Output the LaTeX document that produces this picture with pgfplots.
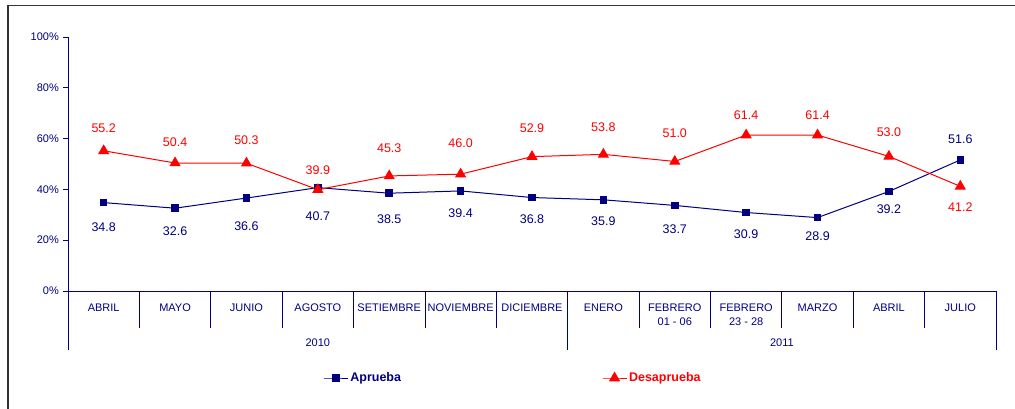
\documentclass[border=0pt]{standalone}
\usepackage{pgfplots}
\usepackage{pgfplotstable}
\pgfplotsset{compat=1.18}
\usepackage{fontspec}
\setmainfont{Liberation Sans}
\definecolor{navy}{RGB}{0,0,128}
\definecolor{dred}{RGB}{255,0,0}

\pgfplotstableread{
x a al d dl
0 34.8 25.2 55.2 64.2
1 32.6 23.6 50.4 58.7
2 36.6 25.6 50.3 59.4
3 40.7 29.5 39.9 47.6
4 38.5 28.3 45.3 56.3
5 39.4 30.7 46.0 58.3
6 36.8 28.3 52.9 64.2
7 35.9 27.6 53.8 64.6
8 33.7 24.4 51.0 62.2
9 30.9 22.4 61.4 69.3
10 28.9 21.7 61.4 69.3
11 39.2 32.3 53.0 62.6
12 51.6 59.8 41.2 33.1
}\datatable

\begin{document}
\begin{tikzpicture}
\path[use as bounding box] (0,0) rectangle (1015bp,-409bp);
\draw[black!80, line width=1.5bp] (8bp,-409bp) -- (8bp,-5.5bp) -- (1015bp,-5.5bp);
\begin{axis}[
  at={(68bp,-291bp)}, anchor=south west,
  scale only axis, width=928bp, height=254bp,
  xmin=-0.5, xmax=12.5, ymin=0, ymax=100,
  axis lines*=left,
  axis line style={navy, line width=0.8bp},
  xtick={0,...,12},
  xticklabels={ABRIL,MAYO,JUNIO,AGOSTO,SETIEMBRE,NOVIEMBRE,DICIEMBRE,ENERO,{FEBRERO\\01 - 06},{FEBRERO\\23 - 28},MARZO,ABRIL,JULIO},
  x tick style={draw=none},
  xticklabel style={align=center, anchor=north, inner sep=0pt, yshift=-8bp, font=\fontsize{11bp}{14bp}\selectfont, text=navy},
  ytick={0,20,...,100},
  yticklabels={0\%,20\%,40\%,60\%,80\%,100\%},
  y tick style={navy, line width=0.8bp},
  tick align=outside, major tick length=5bp,
  yticklabel style={font=\fontsize{11bp}{13bp}\selectfont, text=navy, inner sep=0pt, xshift=-4bp},
  clip=false,
  legend columns=2,
  legend style={at={(0.4795,-0.3425)}, anchor=center, draw=none, fill=none,
    font=\fontsize{12.5bp}{15bp}\selectfont\bfseries,
    /tikz/every even column/.append style={column sep=199bp}},
  legend image code/.code={\draw[mark repeat=2,mark phase=2] plot coordinates {(0bp,0bp)(12bp,0bp)(24bp,0bp)};},
]
\addplot[navy, line width=1bp, mark=square*, mark size=3.3bp, mark options={solid}] table[x=x,y=a]{\datatable};
\addlegendentry{\textcolor{navy}{Aprueba}}
\addplot[dred, line width=1bp, mark=triangle*, mark size=5.5bp, mark options={solid}] table[x=x,y=d]{\datatable};
\addlegendentry{\textcolor{dred}{Desaprueba}}

\addplot[forget plot, draw=none, mark=none, nodes near coords, point meta=explicit symbolic,
  every node near coord/.style={anchor=center, inner sep=0pt, font=\fontsize{12.5bp}{15bp}\selectfont, text=navy}]
  table[x=x, y=al, meta=a]{\datatable};
\addplot[forget plot, draw=none, mark=none, nodes near coords, point meta=explicit symbolic,
  every node near coord/.style={anchor=center, inner sep=0pt, font=\fontsize{12.5bp}{15bp}\selectfont, text=dred}]
  table[x=x, y=dl, meta=d]{\datatable};

\pgfplotsinvokeforeach{0.5,1.5,2.5,3.5,4.5,5.5,7.5,8.5,9.5,10.5,11.5}{
  \draw[navy, line width=0.8bp] (axis cs:#1,0) -- ++(0bp,-37bp);
}
\pgfplotsinvokeforeach{-0.5,6.5,12.5}{
  \draw[navy, line width=0.8bp] (axis cs:#1,0) -- ++(0bp,-59bp);
}
\node[text=navy, font=\fontsize{11bp}{13bp}\selectfont, yshift=-52bp] at (axis cs:3,0) {2010};
\node[text=navy, font=\fontsize{11bp}{13bp}\selectfont, yshift=-52bp] at (axis cs:9.5,0) {2011};
\end{axis}
\end{tikzpicture}
\end{document}
